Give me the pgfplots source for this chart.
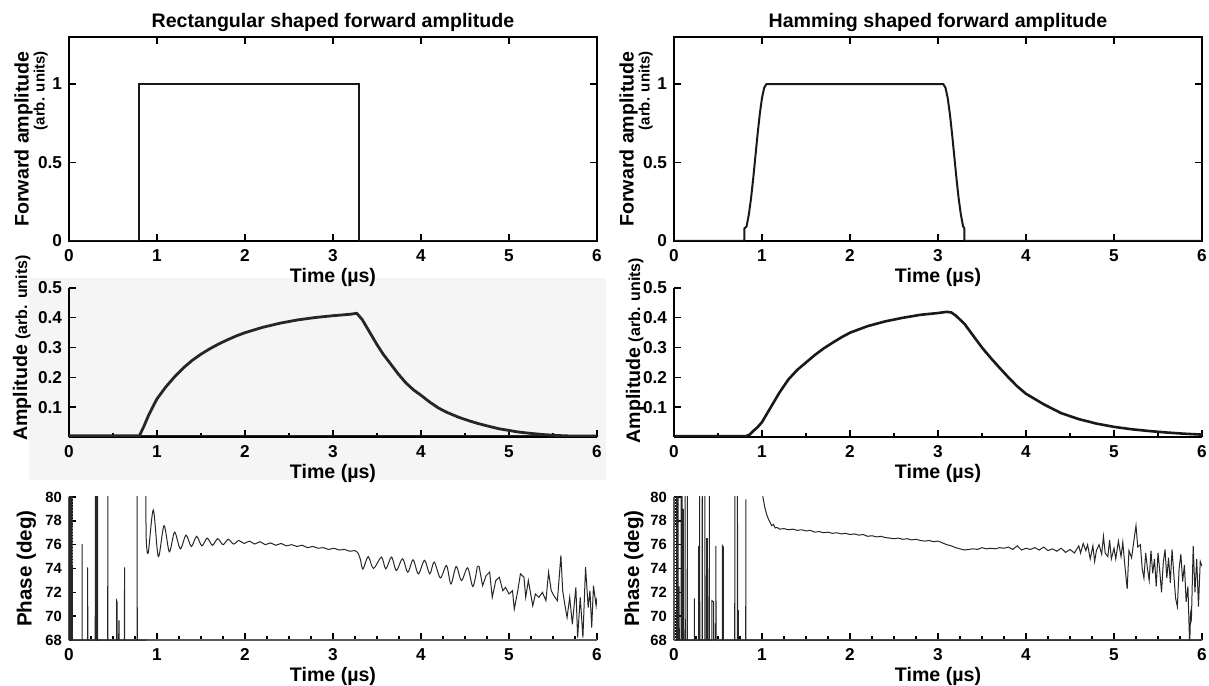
\documentclass[border=0pt]{standalone}
\usepackage{fontspec}
\setmainfont{Liberation Sans}
\usepackage{pgfplots}
\pgfplotsset{compat=1.18}

\pgfplotsset{
 common/.style={
   scale only axis, width=264pt, xmin=0, xmax=6, xtick={0,1,2,3,4,5,6},
   tick align=inside,
   /pgf/number format/assume math mode=true,
   ticklabel style={font=\fontsize{8.6}{10}\selectfont\bfseries},
   xticklabel style={yshift=-0.8pt},
   tick style={black, line width=0.7pt},
   major tick length=3.5pt, minor tick length=2pt,
   axis line style={line width=1pt},
   xlabel={Time (µs)},
   every axis title/.style={font=\fontsize{9.8}{11}\selectfont\bfseries, at={(axis description cs:0.5,1)}, anchor=base, yshift=4.5pt},
   every axis y label/.style={font=\fontsize{9.8}{11}\selectfont\bfseries, anchor=center, rotate=90},
 },
 rowA/.style={common, height=102pt, ymin=0, ymax=1.3, ytick={0,0.5,1},
   every axis x label/.style={font=\fontsize{9.8}{11}\selectfont\bfseries, at={(axis description cs:0.5,0)}, anchor=base, yshift=-21pt},
   ylabel style={at={(axis description cs:-0.072,0.5)}, align=right}},
 rowB/.style={common, height=74.5pt, ymin=0, ymax=0.5, ytick={0.1,0.2,0.3,0.4,0.5},
   axis lines*=left, axis line style={-}, minor x tick num=1,
   every axis x label/.style={font=\fontsize{9.8}{11}\selectfont\bfseries, at={(axis description cs:0.5,0)}, anchor=base, yshift=-20.5pt}},
 rowC/.style={common, height=71.5pt, ymin=68, ymax=80, ytick={68,70,72,74,76,78,80},
   axis lines*=left, axis line style={-, black!65}, minor x tick num=3, minor y tick num=7,
   yticklabel style={font=\fontsize{7.4}{9}\selectfont\bfseries},
   every axis x label/.style={font=\fontsize{9.8}{11}\selectfont\bfseries, at={(axis description cs:0.5,0)}, anchor=base, yshift=-20.5pt},
   ylabel={Phase (deg)},
   ylabel style={font=\fontsize{10.3}{12}\selectfont\bfseries}},
}

\begin{document}
\begin{tikzpicture}
\path[use as bounding box] (0,0) rectangle (604.5pt,342.5pt);
\fill[black!4] (14.5pt,102.5pt) rectangle (303pt,203.5pt);

% ---------- Row 1 left ----------
\begin{axis}[rowA, at={(34.5pt,222pt)}, anchor=south west,
  title={Rectangular shaped forward amplitude},
  ylabel={Forward amplitude\\[-3pt]{\fontsize{7.5}{9}\selectfont (arb. units)}}]
\addplot[black!90, line width=1pt] coordinates {(0,0)(0.8,0)(0.8,1)(3.3,1)(3.3,0)(6,0)};
\end{axis}

% ---------- Row 1 right ----------
\begin{axis}[rowA, at={(337pt,222pt)}, anchor=south west,
  title={Hamming shaped forward amplitude},
  ylabel={Forward amplitude\\[-3pt]{\fontsize{7.5}{9}\selectfont (arb. units)}}]
\addplot[black!90, line width=1pt] coordinates {
(0,0)(0.8,0)(0.8,0.08)(0.825,0.093)(0.85,0.168)(0.875,0.27)(0.9,0.398)(0.925,0.54)
(0.95,0.682)(0.975,0.81)(1.0,0.912)(1.025,0.977)(1.05,1)(3.06,1)(3.085,0.977)
(3.11,0.912)(3.135,0.81)(3.16,0.682)(3.185,0.54)(3.21,0.398)(3.235,0.27)(3.26,0.168)
(3.285,0.093)(3.3,0.08)(3.3,0)(6,0)};
\end{axis}

% ---------- Row 2 left ----------
\begin{axis}[rowB, at={(34.5pt,124pt)}, anchor=south west,
  ylabel={Amplitude {\fontsize{8}{9}\selectfont(arb. units)}},
  ylabel style={at={(axis description cs:-0.089,0.597)}}]
\addplot[black!85, line width=0.6pt] coordinates {(0,0.004)(6,0.004)};
\addplot[black!85, line width=1.4pt] coordinates {
(0,0.004)(0.80,0.004)(0.85,0.035)(0.90,0.07)(0.95,0.10)(1.00,0.128)(1.10,0.168)
(1.20,0.202)(1.30,0.232)(1.40,0.257)(1.50,0.278)(1.60,0.296)(1.70,0.312)(1.80,0.326)
(1.90,0.339)(2.00,0.350)(2.20,0.368)(2.40,0.382)(2.60,0.393)(2.80,0.401)(3.00,0.407)
(3.20,0.412)(3.27,0.415)(3.33,0.395)(3.38,0.37)(3.44,0.34)(3.50,0.31)(3.57,0.278)
(3.65,0.247)(3.74,0.212)(3.83,0.181)(3.92,0.157)(4.00,0.14)(4.10,0.117)(4.20,0.097)
(4.30,0.082)(4.43,0.066)(4.55,0.054)(4.65,0.045)(4.77,0.036)(4.88,0.028)(5.00,0.022)
(5.10,0.017)(5.25,0.012)(5.40,0.008)(5.55,0.005)(5.73,0.003)(6.00,0.003)};
\end{axis}

% ---------- Row 2 right ----------
\begin{axis}[rowB, at={(337pt,124pt)}, anchor=south west,
  ylabel={Amplitude {\fontsize{8}{9}\selectfont(arb. units)}},
  ylabel style={at={(axis description cs:-0.074,0.58)}}]
\addplot[black!90, line width=1.3pt] coordinates {
(0,0.003)(0.82,0.003)(0.86,0.008)(0.9,0.02)(0.95,0.033)(1.0,0.05)(1.05,0.075)(1.1,0.1)
(1.2,0.15)(1.3,0.193)(1.4,0.225)(1.5,0.25)(1.6,0.275)(1.7,0.297)(1.8,0.316)(1.9,0.334)
(2.0,0.35)(2.2,0.372)(2.4,0.388)(2.6,0.4)(2.8,0.41)(3.0,0.416)(3.1,0.42)(3.15,0.418)
(3.2,0.408)(3.3,0.38)(3.4,0.34)(3.5,0.3)(3.6,0.265)(3.7,0.232)(3.8,0.2)(3.9,0.17)
(4.0,0.145)(4.2,0.11)(4.4,0.08)(4.6,0.06)(4.8,0.045)(5.0,0.034)(5.2,0.026)(5.4,0.02)
(5.6,0.015)(5.8,0.011)(6.0,0.008)};
\end{axis}

% ---------- Row 3 left ----------
\begin{axis}[rowC, at={(34.5pt,22.5pt)}, anchor=south west,
  ylabel style={at={(axis description cs:-0.081,0.5)}}]
\addplot[black!85, line width=0.5pt] coordinates {
(0,68)(0.003,81)(0.007,67)(0.011,81)(0.015,67)(0.019,81)(0.023,67)(0.027,81)(0.031,67)
(0.035,81)(0.039,67)(0.041,68)
(0.148,68)(0.148,76.05)(0.150,68)
(0.212,68)(0.212,74.1)(0.214,68)
(0.298,68)(0.300,81)(0.304,67)(0.308,81)(0.312,67)(0.316,81)(0.320,67)(0.324,81)(0.326,68)
(0.44,68)(0.441,81)(0.443,68)
(0.54,68)(0.541,71.3)(0.546,71.2)(0.548,68)
(0.565,68)(0.566,69.6)(0.570,69.6)(0.571,68)
(0.63,68)(0.631,74.1)(0.633,68)
(0.773,68)(0.774,81)(0.776,68)(0.88,68)};
\addplot[black!85, line width=0.5pt, smooth, tension=0.5] coordinates {
(0.875,80.5)(0.877,76.6)(0.90,75.3)(0.958,78.9)(1.015,75.0)(1.08,77.6)(1.14,75.4)
(1.20,77.05)(1.265,75.65)(1.33,76.8)(1.39,75.85)(1.45,76.7)(1.51,75.9)(1.57,76.55)
(1.63,75.95)(1.69,76.5)(1.75,76.0)(1.81,76.45)(1.87,76.05)(1.93,76.35)(1.99,76.1)
(2.05,76.3)(2.11,76.05)(2.17,76.25)(2.23,76.0)(2.29,76.15)(2.35,75.95)(2.41,76.1)
(2.47,75.9)(2.53,76.0)(2.59,75.85)(2.65,75.95)(2.71,75.75)(2.77,75.85)(2.83,75.7)
(2.89,75.75)(2.95,75.6)(3.01,75.7)(3.07,75.55)(3.13,75.6)(3.19,75.45)(3.25,75.5)
(3.28,75.35)(3.31,74.8)(3.34,73.95)(3.40,75.0)(3.46,74.0)(3.55,74.96)(3.60,73.97)
(3.665,74.96)(3.72,73.83)(3.79,74.82)(3.85,73.69)(3.91,74.73)(3.97,73.55)(4.04,74.68)
(4.10,73.55)(4.15,74.54)(4.22,73.21)(4.29,74.25)(4.34,72.70)(4.40,74.17)(4.46,72.99)
(4.53,74.06)(4.59,72.48)(4.64,74.17)};
\addplot[black!85, line width=0.5pt] coordinates {
(4.64,74.17)(4.66,74.17)(4.70,72.56)(4.74,73.4)(4.78,73.7)(4.81,71.58)(4.85,72.99)
(4.89,73.27)(4.93,72.14)(4.96,72.42)(5.0,71.86)(5.04,72.14)(5.06,70.59)(5.10,72.14)
(5.13,73.55)(5.17,73.27)(5.19,71.58)(5.22,72.99)(5.25,71.72)(5.27,70.87)(5.30,71.86)
(5.34,71.58)(5.38,72.0)(5.42,71.3)(5.45,73.69)(5.48,72.14)(5.51,71.72)(5.55,71.3)
(5.59,75.1)(5.61,72.14)(5.64,70.73)(5.66,69.89)(5.69,71.58)(5.72,69.32)(5.76,72.42)
(5.78,68.2)(5.81,71.58)(5.84,68.2)(5.87,74.11)(5.90,70.73)(5.92,72.14)(5.94,69.04)
(5.96,72.56)(5.99,70.87)(6.0,71.58)};
\end{axis}

% ---------- Row 3 right ----------
\begin{axis}[rowC, at={(337pt,22.5pt)}, anchor=south west,
  ylabel style={at={(axis description cs:-0.076,0.5)}}]
\addplot[black!85, line width=0.5pt] coordinates {
(0,68)(0.03,68)(0.031,81)(0.033,68)(0.045,68)(0.046,81)(0.048,68)(0.057,68)(0.058,72.5)
(0.06,68)(0.08,68)(0.081,81)(0.083,68)(0.09,68)(0.091,81)(0.093,68)(0.105,68)(0.106,79)
(0.108,68)(0.125,68)(0.126,81)(0.128,68)(0.15,68)(0.151,81)(0.153,68)
(0.23,68)(0.231,71.5)(0.233,68)
(0.28,68)(0.281,75.9)(0.283,68)
(0.29,68)(0.291,81)(0.293,68)
(0.32,68)(0.321,81)(0.323,68)
(0.35,68)(0.351,81)(0.353,68)
(0.37,68)(0.371,76.5)(0.38,76.5)(0.381,68)
(0.40,68)(0.401,81)(0.403,68)
(0.43,68)(0.431,71.3)(0.45,71.2)(0.451,68)
(0.47,68)(0.471,69.4)(0.473,68)
(0.475,68)(0.476,75.9)(0.478,68)
(0.55,68)(0.551,75.9)(0.56,75.8)(0.561,68)
(0.69,68)(0.691,81)(0.693,68)
(0.72,68)(0.721,81)(0.723,68)
(0.73,68)(0.731,70.5)(0.733,68)
(0.815,68)(0.816,79.8)(0.818,68)(6,68)};
\addplot[black!85, line width=0.5pt] coordinates {
(1.0,80.6)(1.01,80.0)(1.03,79.2)(1.05,78.6)(1.07,78.2)(1.09,77.9)(1.11,77.6)(1.13,77.7)
(1.15,77.4)(1.17,77.45)(1.2,77.3)(1.25,77.35)(1.3,77.25)(1.35,77.3)(1.4,77.2)(1.45,77.25)
(1.5,77.15)(1.55,77.2)(1.6,77.05)(1.65,77.1)(1.7,77.0)(1.75,77.05)(1.8,76.95)(1.85,77.0)
(1.9,76.9)(1.95,76.95)(2.0,76.85)(2.05,76.9)(2.1,76.8)(2.15,76.85)(2.2,76.7)(2.25,76.75)
(2.3,76.65)(2.35,76.7)(2.4,76.6)(2.45,76.55)(2.5,76.5)(2.55,76.55)(2.6,76.45)(2.65,76.5)
(2.7,76.4)(2.75,76.45)(2.8,76.35)(2.85,76.3)(2.9,76.35)(2.95,76.25)(3.0,76.3)(3.05,76.15)
(3.1,76.0)(3.15,75.9)(3.2,75.75)(3.25,75.65)(3.3,75.55)(3.35,75.6)(3.4,75.65)(3.45,75.6)
(3.5,75.75)(3.55,75.65)(3.6,75.7)(3.65,75.65)(3.7,75.75)(3.75,75.7)(3.8,75.8)(3.85,75.6)
(3.9,75.9)(3.95,75.55)(4.0,75.7)(4.05,75.6)(4.1,75.75)(4.15,75.55)(4.2,75.8)(4.25,75.5)
(4.3,75.65)(4.35,75.45)(4.4,75.7)(4.45,75.35)(4.5,75.6)(4.55,75.3)(4.6,75.9)(4.62,75.3)
(4.65,76.1)(4.68,75.5)(4.7,76.0)(4.73,74.8)(4.76,75.9)(4.78,74.6)(4.8,75.5)(4.83,76.0)
(4.86,75.2)(4.88,76.7)(4.9,75.3)(4.93,75.0)(4.95,76.4)(4.97,74.8)(5.0,75.7)(5.02,74.8)
(5.05,76.3)(5.08,75.0)(5.1,76.2)(5.12,74.5)(5.15,72.3)(5.17,75.5)(5.2,74.9)(5.22,76.0)
(5.25,77.6)(5.27,75.8)(5.3,76.0)(5.32,74.0)(5.34,73.2)(5.36,75.3)(5.38,74.0)(5.40,73.0)
(5.42,75.5)(5.44,73.6)(5.46,74.8)(5.48,72.5)(5.50,75.3)(5.52,73.8)(5.54,72.0)(5.56,74.5)
(5.58,75.6)(5.60,73.2)(5.62,74.9)(5.64,72.8)(5.66,75.6)(5.68,73.5)(5.70,71.5)(5.72,70.8)
(5.74,74.0)(5.76,75.2)(5.78,72.9)(5.80,74.3)(5.82,71.2)(5.84,72.5)(5.86,67.5)(5.87,70.2)
(5.88,69.8)(5.90,75.9)(5.92,72.0)(5.94,74.8)(5.96,70.8)(5.98,74.6)(6.0,74.2)};
\end{axis}
\end{tikzpicture}
\end{document}
